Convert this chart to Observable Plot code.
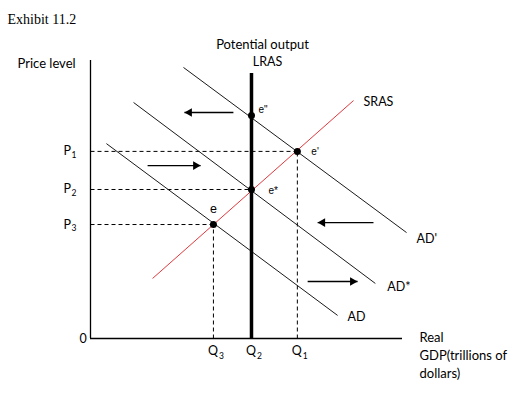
<!DOCTYPE html>
<html>
<head>
<meta charset="utf-8">
<script src="https://cdn.jsdelivr.net/npm/d3@7"></script>
<script src="https://cdn.jsdelivr.net/npm/@observablehq/plot@0.6"></script>
<style>
  html, body { margin: 0; padding: 0; background: #fff; }
</style>
</head>
<body>
<div id="chart"></div>
<script>
// ---- Data (arbitrary units 0–100) ----
const title = "Exhibit 11.2";
const yTitle = "Price level";
const xTitle = "Real\nGDP(trillions of\ndollars)";

// Price and quantity levels
const priceLevels = [67.3, 53.6, 41.0];            // P1, P2, P3
const priceLetter = "P";
const quantityLevels = [66.3, 51.6, 39.4];         // Q1, Q2, Q3
const quantityLetter = "Q";
const levelSubscripts = ["1", "2", "3"];

// Curves (endpoints)
const curveNames = ["AD", "AD*", "AD'", "SRAS"];
const curveX1 = [5.1, 13.8, 29.8, 19.9];
const curveY1 = [70.1, 84.9, 97.5, 21.6];
const curveX2 = [79.2, 91.3, 101.3, 84.3];
const curveY2 = [8.3, 19.8, 38.1, 85.6];

// Long-run aggregate supply (potential output)
const lrasQ = 51.6;
const lrasTop = 95.3;

// Equilibrium points
const pointNames = ["e", "e*", "e'", "e\""];
const pointQ = [39.4, 51.6, 66.3, 51.6];
const pointP = [41.0, 53.6, 67.3, 80.2];

// Shift arrows
const arrowY = [81.3, 62.2, 41.7, 20.5];
const arrowFrom = [45.8, 18.3, 90.7, 69.6];
const arrowTo = [30.1, 35.3, 72.8, 85.6];

// ---- Tables built from the arrays ----
const levels = priceLevels.map((p, i) => ({p, q: quantityLevels[i], sub: levelSubscripts[i]}));
const curves = curveNames.map((name, i) => ({name, x1: curveX1[i], y1: curveY1[i], x2: curveX2[i], y2: curveY2[i]}));
const points = pointNames.map((name, i) => ({name, q: pointQ[i], p: pointP[i]}));
const arrows = arrowY.map((y, i) => ({y, x1: arrowFrom[i], x2: arrowTo[i], right: arrowTo[i] > arrowFrom[i]}));
const byName = n => curves.filter(d => d.name === n);
const pt = n => points.filter(d => d.name === n);

const sans = "Lato, 'Open Sans', sans-serif";
const arial = "'Liberation Sans', Arial, sans-serif";

const chart = Plot.plot({
  width: 524,
  height: 393,
  marginLeft: 90,
  marginRight: 122,
  marginTop: 60,
  marginBottom: 55,
  x: {domain: [0, 100], axis: null},
  y: {domain: [0, 100], axis: null},
  style: {fontFamily: sans, background: "#fff", overflow: "visible"},
  marks: [
    // dashed guides
    Plot.link(levels, {x1: 0, x2: "q", y1: "p", y2: "p", stroke: "#000", strokeWidth: 1, strokeDasharray: "4,3"}),
    Plot.link(levels, {x1: "q", x2: "q", y1: 0, y2: "p", stroke: "#000", strokeWidth: 1, strokeDasharray: "4,3"}),
    // axes
    Plot.ruleX([0], {y1: 0, y2: 100, stroke: "#000", strokeWidth: 1.3}),
    Plot.ruleY([0], {x1: 0, x2: 100, stroke: "#000", strokeWidth: 1.3}),
    // AD curves
    Plot.link(curves.filter(d => d.name !== "SRAS"), {x1: "x1", y1: "y1", x2: "x2", y2: "y2", stroke: "#1a1a1a", strokeWidth: 1}),
    // SRAS
    Plot.link(byName("SRAS"), {x1: "x1", y1: "y1", x2: "x2", y2: "y2", stroke: "#e0393e", strokeWidth: 1}),
    // LRAS
    Plot.ruleX([lrasQ], {y1: 0, y2: lrasTop, stroke: "#000", strokeWidth: 3.5}),
    // arrows
    Plot.link(arrows, {x1: "x1", x2: "x2", y1: "y", y2: "y", stroke: "#000", strokeWidth: 1.3}),
    Plot.dot(arrows.filter(d => d.right), {x: "x2", y: "y", symbol: "triangle", rotate: 90, r: 3.2, fill: "#000", dx: -5}),
    Plot.dot(arrows.filter(d => !d.right), {x: "x2", y: "y", symbol: "triangle", rotate: -90, r: 3.2, fill: "#000", dx: 5}),
    // equilibrium points
    Plot.dot(points, {x: "q", y: "p", r: 3.5, fill: "#000"}),
    // point labels
    Plot.text(pt("e"), {x: "q", y: "p", text: "name", dy: -15.5, fontSize: 12.5, fontFamily: arial}),
    Plot.text(pt("e*"), {x: "q", y: "p", text: "name", dx: 17, dy: 1, textAnchor: "start", fontSize: 10, fontFamily: arial}),
    Plot.text(pt("e'"), {x: "q", y: "p", text: "name", dx: 14, dy: 0, textAnchor: "start", fontSize: 10, fontFamily: arial}),
    Plot.text(pt("e\""), {x: "q", y: "p", text: "name", dx: 7, dy: -5.5, textAnchor: "start", fontSize: 10, fontFamily: arial}),
    // curve labels
    Plot.text(byName("AD'"), {x: "x2", y: "y2", text: "name", dx: 10, dy: 6, textAnchor: "start", fontSize: 12.5}),
    Plot.text(byName("AD*"), {x: "x2", y: "y2", text: "name", dx: 12, dy: 3.5, textAnchor: "start", fontSize: 12.5}),
    Plot.text(byName("AD"), {x: "x2", y: "y2", text: "name", dx: 10, dy: 1.5, textAnchor: "start", fontSize: 12.5}),
    Plot.text(byName("SRAS"), {x: "x2", y: "y2", text: "name", dx: 10, dy: 1.5, textAnchor: "start", fontSize: 12.5}),
    // LRAS titles
    Plot.text(["Potential output"], {x: lrasQ, frameAnchor: "top", dx: 11, dy: -21, fontSize: 13}),
    Plot.text(["LRAS"], {x: lrasQ, frameAnchor: "top", dx: 16, dy: -3.5, fontSize: 12.5}),
    // tick labels: letters with subscripts
    Plot.text(levels, {y: "p", text: () => priceLetter, frameAnchor: "left", dx: -27, textAnchor: "start", fontSize: 12.5}),
    Plot.text(levels, {y: "p", text: "sub", frameAnchor: "left", dx: -19, dy: 4, textAnchor: "start", fontSize: 8.5}),
    Plot.text(levels, {x: "q", text: () => quantityLetter, frameAnchor: "bottom", dy: 16, dx: -5.5, textAnchor: "start", fontSize: 12.5}),
    Plot.text(levels, {x: "q", text: "sub", frameAnchor: "bottom", dy: 20, dx: 5.5, textAnchor: "start", fontSize: 8.5}),
    Plot.text(["0"], {frameAnchor: "bottom-left", dx: -11, dy: 4, fontSize: 12.5}),
    // axis titles
    Plot.text([yTitle], {frameAnchor: "top-left", dx: -73, dy: -1.5, textAnchor: "start", fontSize: 13}),
    Plot.text([xTitle], {frameAnchor: "bottom-right", dx: 17, dy: -9, textAnchor: "start", lineAnchor: "top", lineHeight: 1.38, fontSize: 13}),
    // exhibit title
    Plot.text([title], {frameAnchor: "top-left", dx: -83, dy: -46.5, textAnchor: "start", fontSize: 14, fontFamily: "'Liberation Serif', 'Times New Roman', serif"})
  ]
});
document.getElementById("chart").appendChild(chart);
</script>
</body>
</html>
